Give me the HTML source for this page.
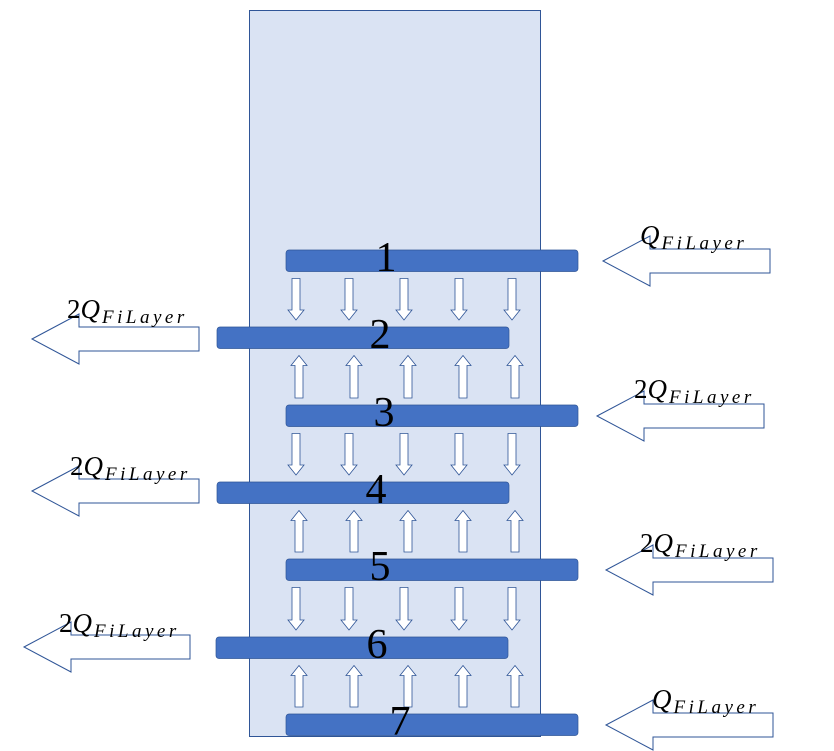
<!DOCTYPE html>
<html><head><meta charset="utf-8"><style>body{margin:0;background:#fff}svg{display:block}</style></head>
<body>
<svg width="834" height="751" xmlns="http://www.w3.org/2000/svg">
<rect x="249.5" y="10.5" width="291" height="726" fill="#dae3f3" stroke="#2f5597" stroke-width="1"/>
<g id="bars"></g><g id="small"></g><g id="big"></g><g id="labels"></g>
<script>
const ns='http://www.w3.org/2000/svg';
const barX=[286,217,286,217,286,216,286];
const barY=[250,327,405,482,559,637,714];
const numX=[386,380,384,376,380,377,400];
const bars=document.getElementById('bars');
const labels=document.getElementById('labels');
barY.forEach((y,i)=>{
 const r=document.createElementNS(ns,'rect');
 r.setAttribute('x',barX[i]);r.setAttribute('y',y);r.setAttribute('width',292);r.setAttribute('height',21.5);
 r.setAttribute('rx',3);r.setAttribute('fill','#4472c4');r.setAttribute('stroke','#2f5597');r.setAttribute('stroke-width',0.7);
 
 
 bars.appendChild(r);
 const t=document.createElementNS(ns,'text');
 t.setAttribute('x',numX[i]);t.setAttribute('y',y+21);t.setAttribute('text-anchor','middle');
 t.setAttribute('font-family','Liberation Serif, serif');t.setAttribute('font-size','42');t.textContent=String(i+1);
 
 
 labels.appendChild(t);
});
const downX=[296,349,404,459,512], upX=[299,354,408,463,515];
const sm=document.getElementById('small');
for(let g=0;g<6;g++){
 const y0=barY[g]+21.5+7, y1=barY[g+1]-7, down=g%2===0, xs=down?downX:upX;
 xs.forEach(x=>{
  let p;
  if(down) p=`M${x-4},${y0} L${x+4},${y0} L${x+4},${y1-10} L${x+8},${y1-10} L${x},${y1} L${x-8},${y1-10} L${x-4},${y1-10} Z`;
  else p=`M${x-4},${y1} L${x+4},${y1} L${x+4},${y0+10} L${x+8},${y0+10} L${x},${y0} L${x-8},${y0+10} L${x-4},${y0+10} Z`;
  const e=document.createElementNS(ns,'path');
  e.setAttribute('d',p);e.setAttribute('fill','#fff');e.setAttribute('stroke','#2f5597');e.setAttribute('stroke-width',0.8);
  
  
  sm.appendChild(e);
 });
}
const big=[[603,261,770,'',640,244],[32,339,199,'2',67,318],[597,416,764,'2',634,398],[32,491,199,'2',70,475],[606,570,773,'2',640,552],[24,647,190,'2',59,632],[606,725,773,'',652,708]];
const bg=document.getElementById('big');
function span(txt,italic,size,dy){
 const s=document.createElementNS(ns,'tspan');
 s.setAttribute('font-style',italic?'italic':'normal');
 if(size) s.setAttribute('font-size',size);
 if(dy) s.setAttribute('dy',dy);
 s.textContent=txt;return s;
}
big.forEach((a,i)=>{
 const [tip,cy,end,pre,lx,ly]=a, hb=tip+47;
 const p=`M${tip},${cy} L${hb},${cy-25} L${hb},${cy-12} L${end},${cy-12} L${end},${cy+12} L${hb},${cy+12} L${hb},${cy+25} Z`;
 const e=document.createElementNS(ns,'path');
 e.setAttribute('d',p);e.setAttribute('fill','#fff');e.setAttribute('stroke','#2f5597');e.setAttribute('stroke-width',1);
 
 
 bg.appendChild(e);
 const t=document.createElementNS(ns,'text');
 t.setAttribute('x',lx);t.setAttribute('y',ly);t.setAttribute('font-family','Liberation Serif, serif');t.setAttribute('font-size','27');
 if(pre) t.appendChild(span(pre,false));
 const q=span('Q',true);
 q.setAttribute('letter-spacing','2');
 t.appendChild(q);
 const sub=span('FiLayer',true,'19','5');
 sub.setAttribute('letter-spacing','3.5');
 t.appendChild(sub);
 
 
 labels.appendChild(t);
});
</script>
</svg>
</body></html>
